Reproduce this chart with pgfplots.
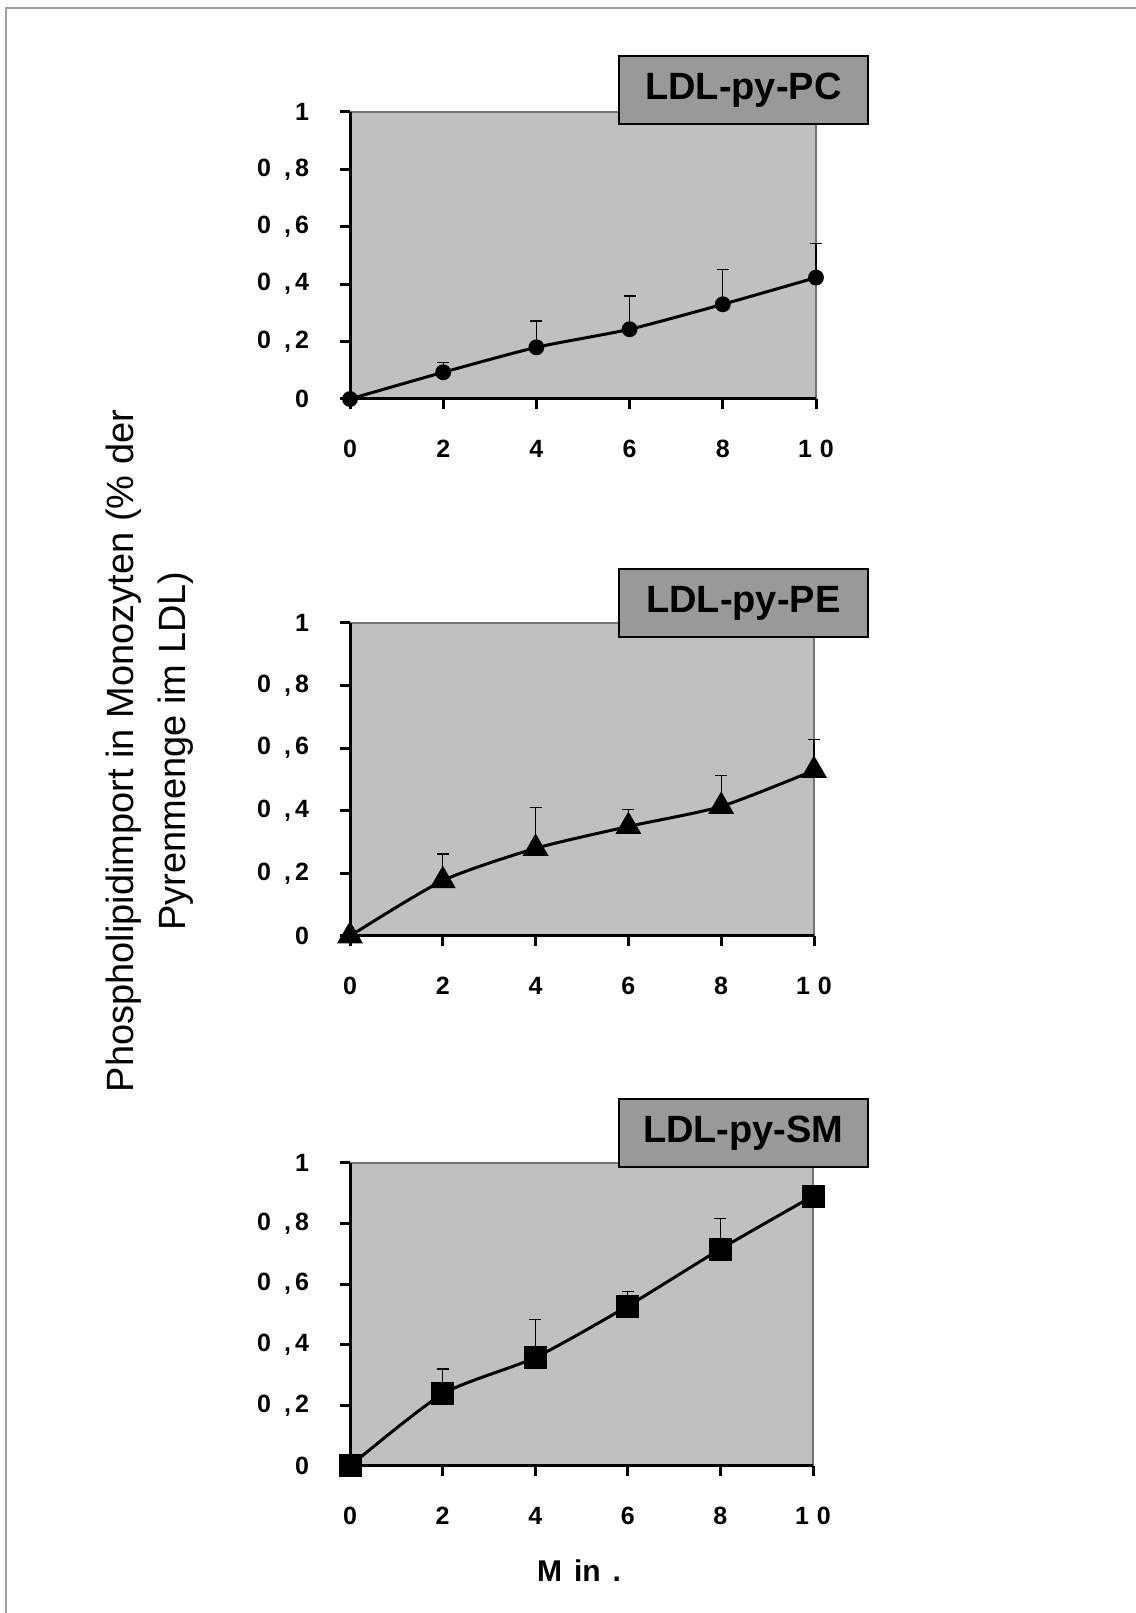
\documentclass[border=0pt]{standalone}
\usepackage{fontspec}
\setmainfont{Liberation Sans}
\usepackage{pgfplots}
\pgfplotsset{compat=1.18}

\definecolor{plotbg}{HTML}{C0C0C0}
\definecolor{boxgray}{HTML}{999999}
\definecolor{framegray}{HTML}{A0A0A0}

\newcommand{\dd}[1]{0\hspace{6.5pt},\hspace{2pt}#1}

\pgfplotsset{
  panel/.style={
    scale only axis, anchor=south west,
    xmin=0, xmax=10, ymin=0, ymax=1,
    axis x line*=bottom, axis y line*=left,
    axis line style={line width=1.5pt, black, -},
    axis background/.style={fill=plotbg, draw=black!55, line width=0.6pt},
    xtick={0,2,4,6,8,10}, ytick={0,0.2,0.4,0.6,0.8,1},
    xticklabels={0,2,4,6,8,1\hspace{4pt}0},
    yticklabels={0,\dd{2},\dd{4},\dd{6},\dd{8},1},
    tick align=outside, major tick length=5pt,
    tick style={line width=1.5pt, black},
    tick label style={font=\fontsize{12.5}{14}\selectfont\bfseries},
    yticklabel style={xshift=-12pt},
    xticklabel style={yshift=-12pt},
    clip=false,
  },
  series/.style={black, line width=1.5pt, smooth, tension=0.4,
    mark options={solid, fill=black},
    error bars/y dir=plus, error bars/y explicit,
    error bars/error bar style={line width=0.6pt, black},
    error bars/error mark options={rotate=90, line width=0.6pt, mark size=3pt, black}},
}

\pgfplotstableread{
x y e
0 0 0
2 0.093 0.034
4 0.180 0.092
6 0.243 0.116
8 0.330 0.122
10 0.423 0.118
}\PCdata
\pgfplotstableread{
x y e
0 0 0
2 0.177 0.085
4 0.280 0.130
6 0.350 0.053
8 0.414 0.098
10 0.529 0.098
}\PEdata
\pgfplotstableread{
x y e
0 0 0
2 0.238 0.082
4 0.358 0.126
6 0.528 0.048
8 0.716 0.100
10 0.891 0
}\SMdata

\begin{document}
\begin{tikzpicture}
\useasboundingbox (0,0) rectangle (568pt,806.5pt);
% page frame (top and left)
\draw[framegray, line width=1pt] (3pt,0pt) -- (3pt,802.5pt) -- (568pt,802.5pt);

\begin{axis}[panel, at={(175pt,607pt)}, width=233pt, height=143.5pt]
\addplot[series, mark=*, mark size=3.2pt] table[x=x, y=y, y error=e] {\PCdata};
\end{axis}

\begin{axis}[panel, at={(175pt,338.5pt)}, width=232pt, height=156.5pt]
\addplot[series, mark=triangle*, mark size=6pt] table[x=x, y=y, y error=e] {\PEdata};
\end{axis}

\begin{axis}[panel, at={(175pt,73.5pt)}, width=231.5pt, height=151.5pt]
\addplot[series, mark=square*, mark size=5pt] table[x=x, y=y, y error=e] {\SMdata};
\end{axis}

\foreach \yb/\txt in {744/PC, 487.5/PE, 222.5/SM}{
  \node[draw=black, line width=0.8pt, fill=boxgray, minimum width=124.5pt,
        minimum height=34pt, anchor=south west, inner sep=0pt,
        font=\fontsize{19}{21}\selectfont\bfseries] at (309pt,\yb pt) {LDL-py-\txt};
}

\node[rotate=90, align=center, font=\fontsize{19}{26}\selectfont] at (75pt,431pt)
  {Phospholipidimport in Monozyten (\% der\\Pyrenmenge im LDL)};

\node[font=\fontsize{15}{17}\selectfont\bfseries] at (289.5pt,21pt) {M\hspace{6pt}in\hspace{6pt}.};
\end{tikzpicture}
\end{document}
